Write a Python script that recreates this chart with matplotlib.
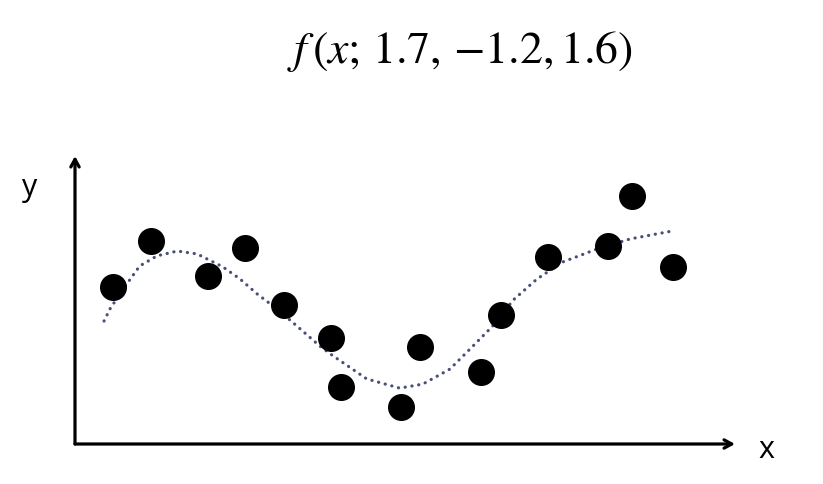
import matplotlib.pyplot as plt

# observed points (axis units, 0..10 on both axes)
x_pts = [0.58, 1.15, 2.02, 2.58, 3.17, 3.88, 4.03, 4.94, 5.23, 6.15, 6.45, 7.17, 8.08, 8.44, 9.06]
y_pts = [5.45, 7.05, 5.83, 6.81, 4.83, 3.68, 1.98, 1.28, 3.37, 2.50, 4.48, 6.49, 6.88, 8.61, 6.15]

# fitted curve
x_fit = [0.44, 0.53, 0.73, 0.98, 1.24, 1.55, 1.85, 2.24, 2.50, 2.76, 3.06, 3.36, 3.71,
         3.91, 4.42, 4.92, 5.27, 5.68, 6.03, 6.33, 6.64, 7.00, 7.39, 7.91, 8.41, 9.06]
y_fit = [4.27, 4.69, 5.38, 6.18, 6.53, 6.70, 6.60, 6.15, 5.73, 5.21, 4.69, 4.10, 3.40,
         3.06, 2.26, 1.94, 2.08, 2.60, 3.40, 4.10, 5.00, 5.73, 6.32, 6.77, 7.12, 7.40]

title = r'$f\,(x;\,1.7,\,{-}1.2,1.6)$'
plt.rcParams['mathtext.fontset'] = 'stix'

fig = plt.figure(figsize=(8.23, 4.85), dpi=100)
ax = fig.add_axes([75 / 823, 40 / 485, 660 / 823, 288 / 485])
ax.set_xlim(0, 10)
ax.set_ylim(0, 10)
ax.axis('off')

ax.plot(x_fit, y_fit, color='#485078', lw=2.3, linestyle=(0, (0.05, 2.1)),
        dash_capstyle='round', solid_joinstyle='round', zorder=2)
ax.scatter(x_pts, y_pts, s=340, color='black', zorder=3)

arrow = dict(arrowstyle='->,head_length=0.55,head_width=0.3', lw=2.3, color='black',
             shrinkA=0, shrinkB=0)
ax.annotate('', xy=(10, 0), xytext=(0, 0), arrowprops=arrow, annotation_clip=False)
ax.annotate('', xy=(0, 10), xytext=(0, 0), arrowprops=arrow, annotation_clip=False)

fig.text(766 / 823, 1 - 450 / 485, 'x', fontsize=22, family='Open Sans',
         ha='center', va='center')
fig.text(30 / 823, 1 - 188 / 485, 'y', fontsize=22, family='Open Sans',
         ha='center', va='center')
fig.text(460 / 823, 1 - 52 / 485, title, fontsize=33, ha='center', va='center')

fig.savefig('out.png', dpi=100)
